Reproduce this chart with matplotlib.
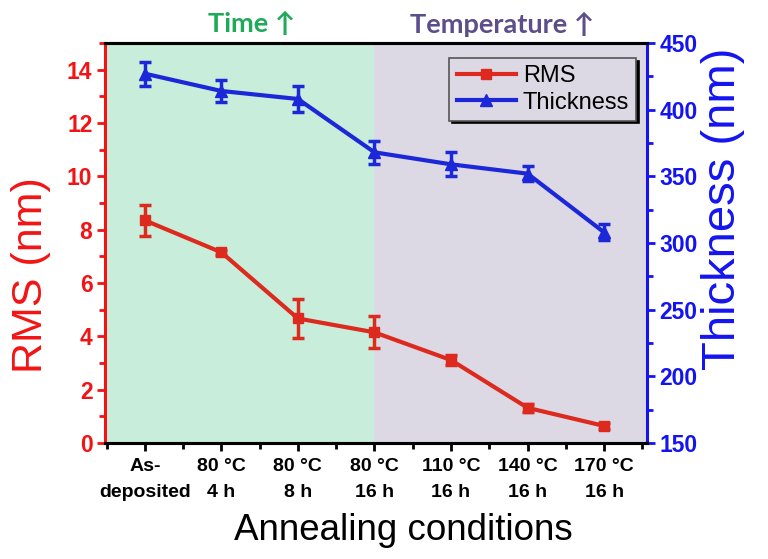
import matplotlib
matplotlib.use("Agg")
import matplotlib.pyplot as plt
from matplotlib.lines import Line2D
from matplotlib.ticker import MultipleLocator
import numpy as np

conditions = ["As-\ndeposited", "80 °C\n4 h", "80 °C\n8 h", "80 °C\n16 h",
              "110 °C\n16 h", "140 °C\n16 h", "170 °C\n16 h"]
rms = [8.35, 7.15, 4.67, 4.15, 3.11, 1.32, 0.64]
rms_err = [0.57, 0.10, 0.73, 0.60, 0.20, 0.14, 0.12]
thickness = [427, 414, 408, 368, 359, 352, 308]
thickness_err = [9, 8, 9.5, 8.5, 9, 5.5, 6]

red_axis = "#f21414"
red_line = "#dc2a1e"
blue_axis = "#1414f0"
blue_line = "#1c28d8"
green_bg = "#c8eedb"
purple_bg = "#dcd9e5"

plt.rcParams["font.family"] = ["Liberation Sans", "DejaVu Sans"]

fig = plt.figure(figsize=(7.68, 5.59), dpi=100)
ax = fig.add_axes([0.1367, 0.2075, 0.7057, 0.7156])
ax2 = ax.twinx()

x = np.arange(len(conditions))
ax.set_xlim(-0.52, 6.56)
ax.axvspan(-0.52, 3, color=green_bg, zorder=0, lw=0)
ax.axvspan(3, 6.56, color=purple_bg, zorder=0, lw=0)

ax.errorbar(x, rms, yerr=rms_err, color=red_line, marker="s", ms=7,
            lw=3, elinewidth=2.5, capsize=4.5, capthick=2.5, zorder=3)
ax2.errorbar(x, thickness, yerr=thickness_err, color=blue_line, marker="^", ms=9,
             lw=3, elinewidth=2.5, capsize=4.5, capthick=2.5, zorder=3)

ax.set_ylim(0, 15)
ax2.set_ylim(150, 450)
ax.set_yticks(np.arange(0, 15, 2))
ax.yaxis.set_minor_locator(MultipleLocator(1))
ax2.yaxis.set_major_locator(MultipleLocator(50))
ax2.yaxis.set_minor_locator(MultipleLocator(25))
ax.set_xticks(x)
ax.set_xticks(np.arange(-0.5, 6.6, 0.5), minor=True)
ax.set_xticklabels(conditions, fontsize=14, fontweight="bold", linespacing=1.65)

for side, col in [("left", red_axis), ("right", "none"), ("top", "black"), ("bottom", "black")]:
    ax.spines[side].set_linewidth(2.2)
    ax.spines[side].set_color(col)
for side, col in [("left", "none"), ("right", blue_axis), ("top", "black"), ("bottom", "black")]:
    ax2.spines[side].set_linewidth(2.2)
    ax2.spines[side].set_color(col)

ax.tick_params(axis="y", which="both", colors=red_axis, width=2, direction="out")
ax.tick_params(axis="y", which="major", length=6, labelsize=16.5, pad=3)
ax.tick_params(axis="y", which="minor", length=4)
ax2.tick_params(axis="y", which="both", colors=blue_axis, width=2, direction="out")
ax2.tick_params(axis="y", which="major", length=6, labelsize=16.5, pad=3)
ax2.tick_params(axis="y", which="minor", length=4)
ax.tick_params(axis="x", which="both", width=2, direction="out", color="black")
ax.tick_params(axis="x", which="major", length=6, pad=5)
ax.tick_params(axis="x", which="minor", length=4)
for lbl in ax.get_yticklabels() + ax2.get_yticklabels():
    lbl.set_fontweight("bold")

ax.set_ylabel("RMS (nm)", fontsize=31, color=red_axis)
ax.yaxis.set_label_coords(-0.1, 0.42)
ax2.set_ylabel("Thickness (nm)", fontsize=34, color=blue_axis)
ax2.yaxis.set_label_coords(1.1, 0.585)
ax.set_xlabel("Annealing conditions", fontsize=26.5)
ax.xaxis.set_label_coords(0.55, -0.175)

handles = [Line2D([], [], color=red_line, marker="s", ms=7, lw=3),
           Line2D([], [], color=blue_line, marker="^", ms=9, lw=3)]
leg = ax2.legend(handles, ["RMS", "Thickness"], loc="upper right", fontsize=17,
                 fancybox=False, shadow={"color": "black", "alpha": 1.0},
                 edgecolor="#555555", facecolor=purple_bg, framealpha=1,
                 handlelength=2.5, borderpad=0.3, labelspacing=0.2,
                 handletextpad=0.3, borderaxespad=0,
                 bbox_to_anchor=(0.98, 0.963))
leg.get_frame().set_linewidth(1.2)

fig.text(0.328, 0.957, "Time ↑", fontsize=19.5, fontweight="bold", color="#1faa5a",
         ha="center", va="center", family=["Lato", "DejaVu Sans"])
fig.text(0.654, 0.957, "Temperature ↑", fontsize=19.5, fontweight="bold", color="#5b4e8b",
         ha="center", va="center", family=["Lato", "DejaVu Sans"])

fig.savefig("out.png", dpi=100)
